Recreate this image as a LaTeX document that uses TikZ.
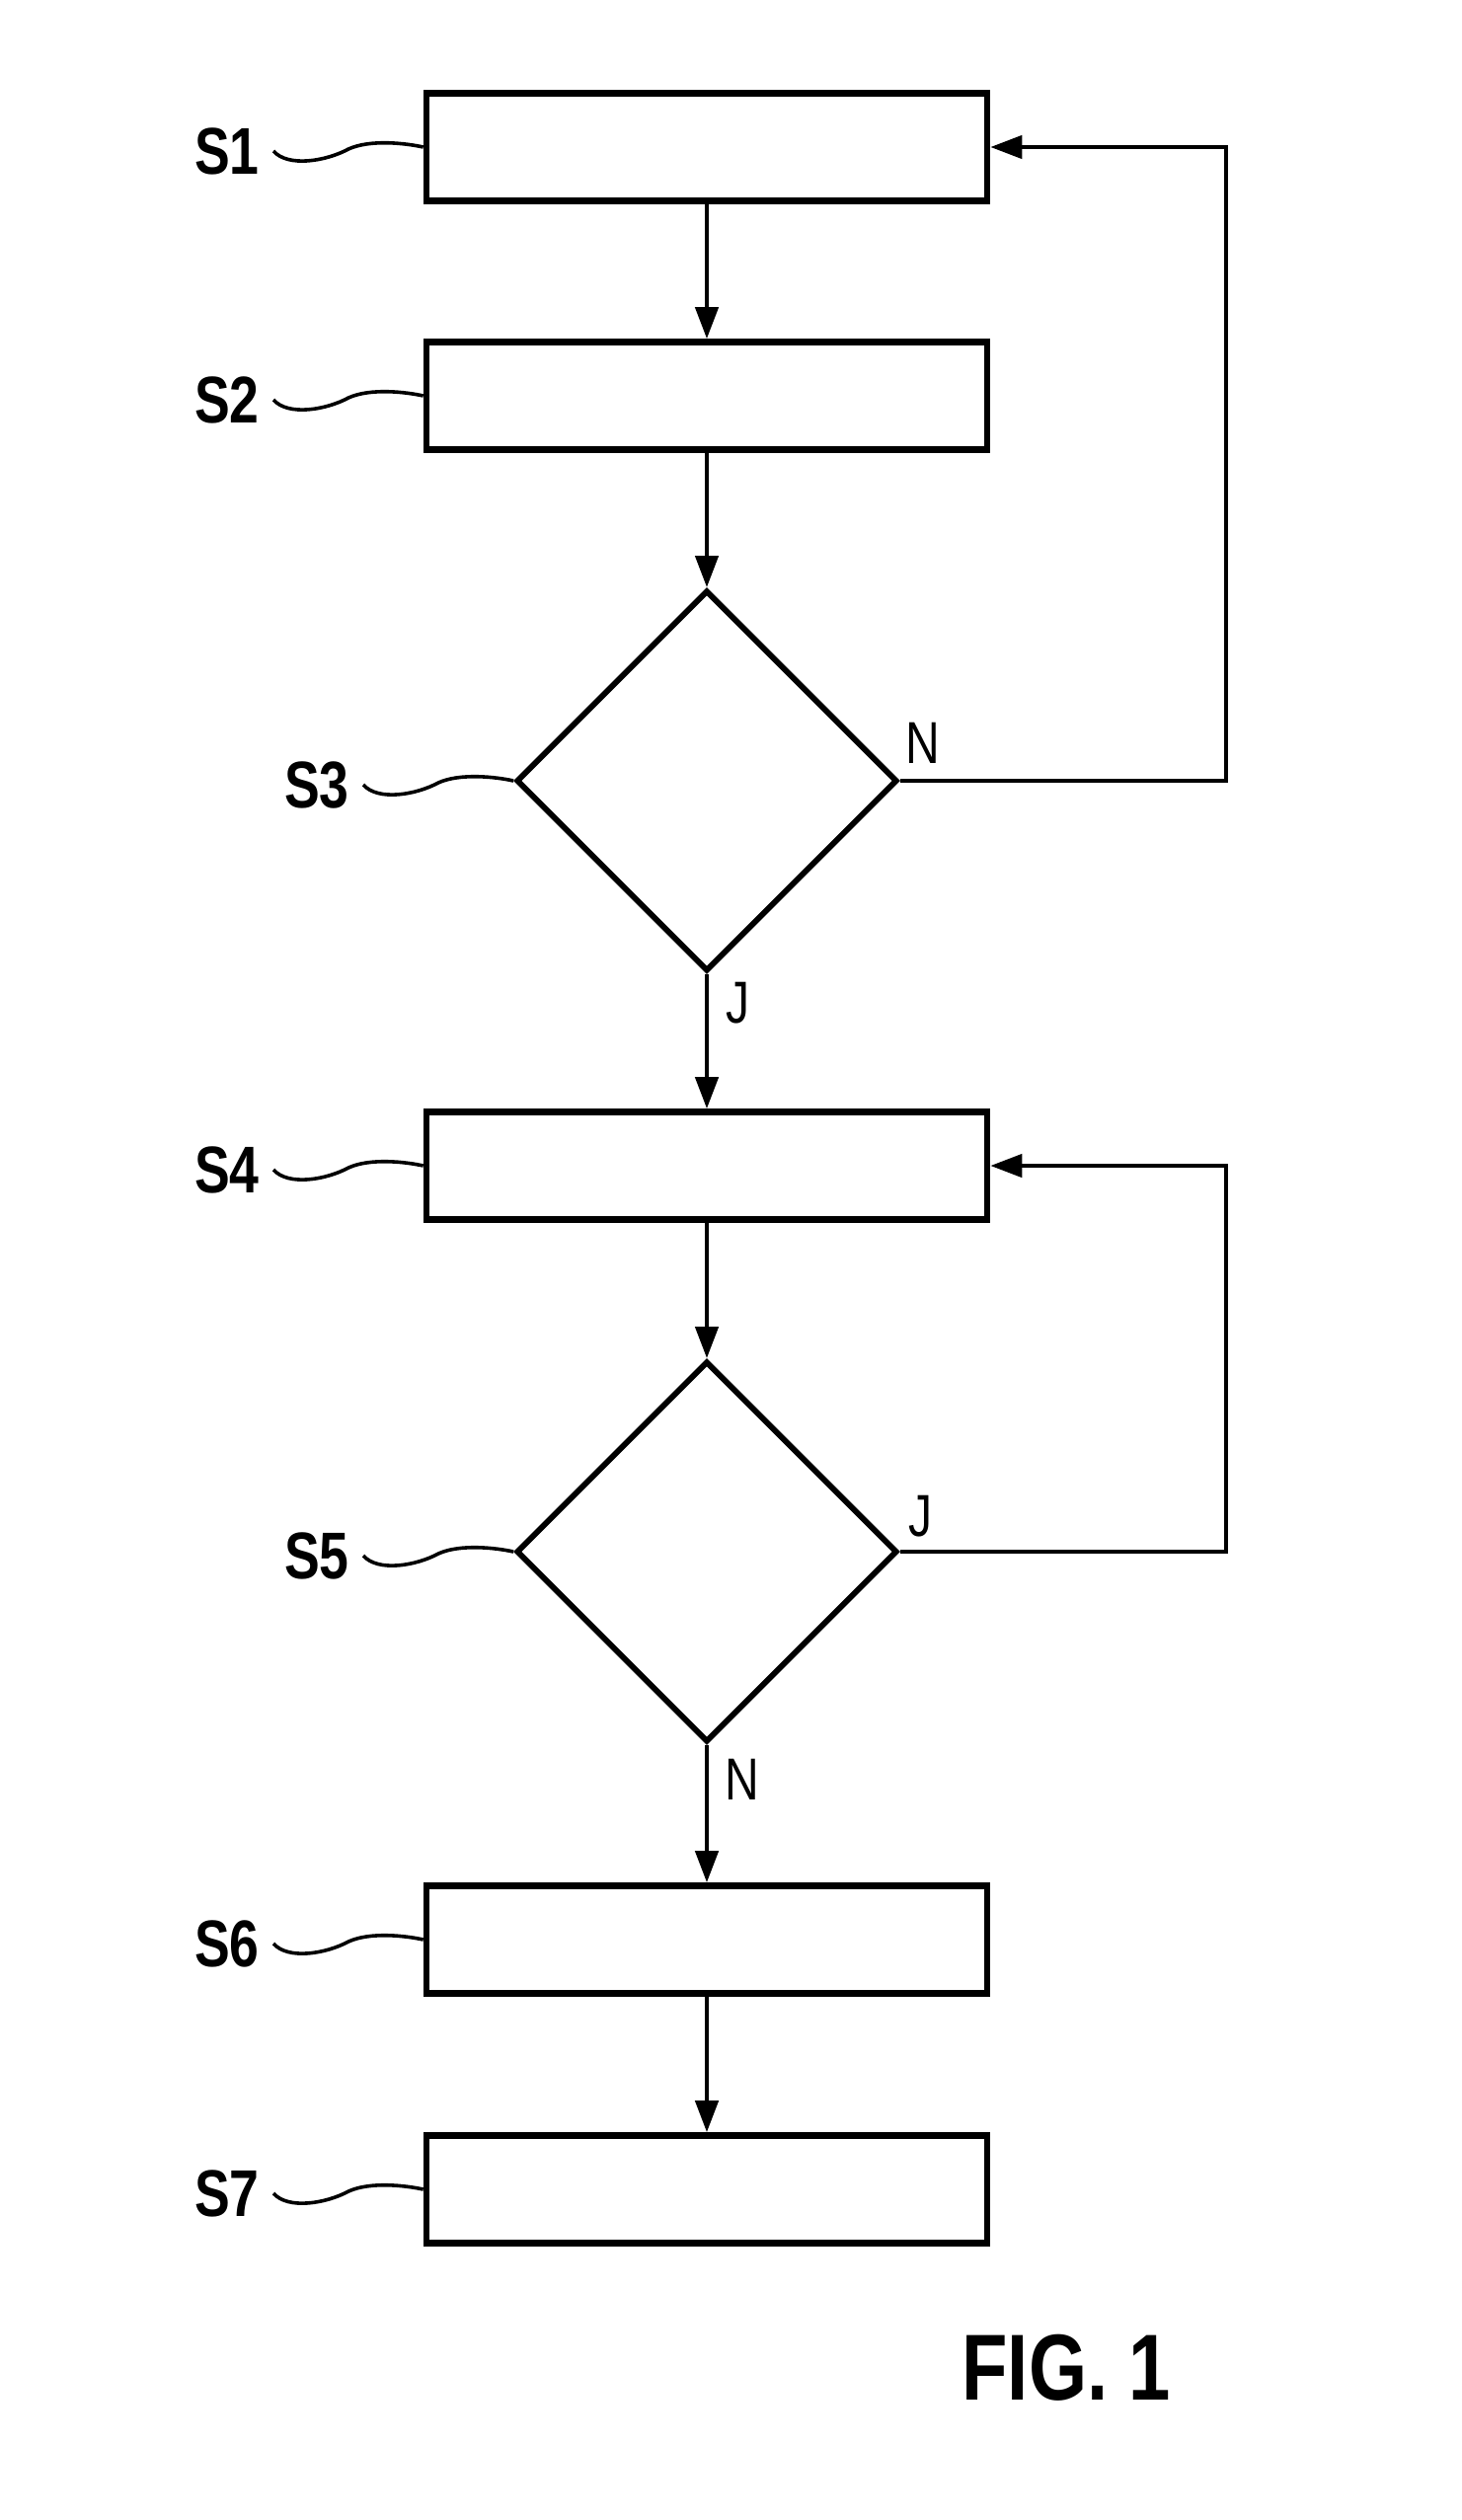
\documentclass[tikz,border=0pt]{standalone}
\usepackage{fontspec}
\setmainfont{Liberation Sans}
\newfontfamily\narrowfont[FakeStretch=0.8]{Liberation Sans}
\usetikzlibrary{shapes.geometric,arrows.meta}
\begin{document}
\begin{tikzpicture}[x=0.5pt,y=-0.5pt,
    stepbox/.style={draw,line width=3.3pt,minimum width=284pt,minimum height=54.5pt,inner sep=0pt},
    test/.style={draw,diamond,line width=2.9pt,minimum width=193pt,minimum height=193pt,inner sep=0pt},
    flow/.style={line width=2.2pt,-{Triangle[length=16pt,width=11.5pt]}},
    lead/.style={line width=1.8pt},
    ref/.style={anchor=east,inner sep=0pt,inner xsep=7pt,font=\narrowfont\bfseries\fontsize{33.5}{34}\selectfont},
    yn/.style={inner sep=0pt,font=\narrowfont\fontsize{30}{30}\selectfont}]
  \useasboundingbox (0,0) rectangle (1481,2553);
  % steps and tests
  \node[stepbox] (s1) at (716,149) {};
  \node[stepbox] (s2) at (716,401) {};
  \node[test]    (s3) at (716,791) {};
  \node[stepbox] (s4) at (716,1181) {};
  \node[test]    (s5) at (716,1572) {};
  \node[stepbox] (s6) at (716,1965) {};
  \node[stepbox] (s7) at (716,2218) {};
  \coordinate (back) at (1242,0);
  % reference signs
  \foreach \n/\x/\y in {1/277/153, 2/277/405, 3/368/795, 4/277/1185, 5/368/1576, 6/277/1969, 7/277/2222} {
    \node[ref] (l\n) at (\x,\y) {S\n};
    \draw[lead] (l\n.east) .. controls +(15,17) and +(-22,12) .. ++(76,-2)
      .. controls +(22,-10) and +(-18,-4) .. (s\n.west);
  }
  % flow
  \draw[flow] (s1) -- (s2);
  \draw[flow] (s2) -- (s3);
  \draw[flow] (s3) -- (s4);
  \draw[flow] (s4) -- (s5);
  \draw[flow] (s5) -- (s6);
  \draw[flow] (s6) -- (s7);
  \draw[flow] (s3.east) -- (s3.east -| back) |- (s1.east);
  \draw[flow] (s5.east) -- (s5.east -| back) |- (s4.east);
  \node[yn] (n3) at (935,753) {N};
  \node[yn] (j3) at (747,1016) {J};
  \node[yn] (j5) at (932,1536) {J};
  \node[yn] (n5) at (752,1803) {N};
  \node[font=\narrowfont\bfseries\fontsize{47.5}{50}\selectfont] (fig) at (1080,2399) {FIG. 1};
\end{tikzpicture}
\end{document}
